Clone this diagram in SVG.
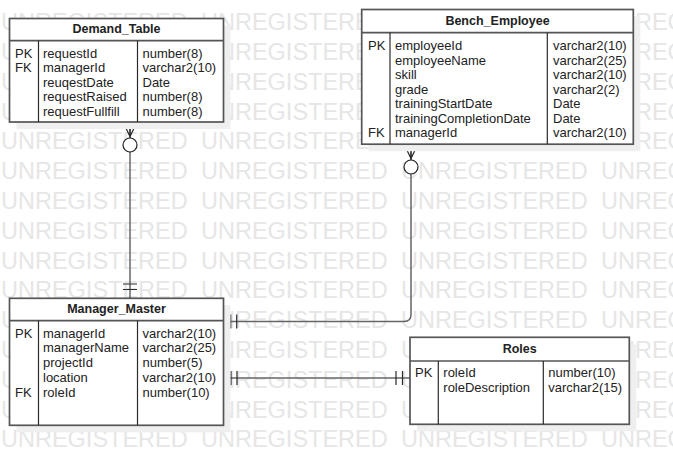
<svg xmlns="http://www.w3.org/2000/svg" width="673" height="466" viewBox="0 0 673 466">
<style>
.wm{font-family:"Liberation Sans",Arial,sans-serif;font-size:23.5px;fill:#e6e6e6}
.shadow{fill:#efefef}
.box{fill:#ffffff;stroke:#555555;stroke-width:1.7}
.hl{stroke:#555555;stroke-width:1.7}
.col{stroke:#2a2a2a;stroke-width:1.2}
.title{font-family:"Liberation Sans",Arial,sans-serif;font-size:12.5px;font-weight:bold;fill:#222;text-anchor:middle}
.t{font-family:"Liberation Sans",Arial,sans-serif;font-size:13px;fill:#222}
.ln{fill:none;stroke:#666666;stroke-width:1.5}
.crow{fill:none;stroke:#2a2a2a;stroke-width:1.2}
.circ{fill:#ffffff;stroke:#222222;stroke-width:1.2}
</style>
<rect width="673" height="466" fill="#ffffff"/>
<g id="watermark">
<text class="wm" y="30.2"><tspan x="1">UNREGISTERED</tspan><tspan x="201">UNREGISTERED</tspan><tspan x="401">UNREGISTERED</tspan><tspan x="601">UNREGISTERED</tspan></text>
<text class="wm" y="60"><tspan x="1">UNREGISTERED</tspan><tspan x="201">UNREGISTERED</tspan><tspan x="401">UNREGISTERED</tspan><tspan x="601">UNREGISTERED</tspan></text>
<text class="wm" y="89.8"><tspan x="1">UNREGISTERED</tspan><tspan x="201">UNREGISTERED</tspan><tspan x="401">UNREGISTERED</tspan><tspan x="601">UNREGISTERED</tspan></text>
<text class="wm" y="119.6"><tspan x="1">UNREGISTERED</tspan><tspan x="201">UNREGISTERED</tspan><tspan x="401">UNREGISTERED</tspan><tspan x="601">UNREGISTERED</tspan></text>
<text class="wm" y="149.4"><tspan x="1">UNREGISTERED</tspan><tspan x="201">UNREGISTERED</tspan><tspan x="401">UNREGISTERED</tspan><tspan x="601">UNREGISTERED</tspan></text>
<text class="wm" y="179.2"><tspan x="1">UNREGISTERED</tspan><tspan x="201">UNREGISTERED</tspan><tspan x="401">UNREGISTERED</tspan><tspan x="601">UNREGISTERED</tspan></text>
<text class="wm" y="209"><tspan x="1">UNREGISTERED</tspan><tspan x="201">UNREGISTERED</tspan><tspan x="401">UNREGISTERED</tspan><tspan x="601">UNREGISTERED</tspan></text>
<text class="wm" y="238.8"><tspan x="1">UNREGISTERED</tspan><tspan x="201">UNREGISTERED</tspan><tspan x="401">UNREGISTERED</tspan><tspan x="601">UNREGISTERED</tspan></text>
<text class="wm" y="268.6"><tspan x="1">UNREGISTERED</tspan><tspan x="201">UNREGISTERED</tspan><tspan x="401">UNREGISTERED</tspan><tspan x="601">UNREGISTERED</tspan></text>
<text class="wm" y="298.4"><tspan x="1">UNREGISTERED</tspan><tspan x="201">UNREGISTERED</tspan><tspan x="401">UNREGISTERED</tspan><tspan x="601">UNREGISTERED</tspan></text>
<text class="wm" y="328.2"><tspan x="1">UNREGISTERED</tspan><tspan x="201">UNREGISTERED</tspan><tspan x="401">UNREGISTERED</tspan><tspan x="601">UNREGISTERED</tspan></text>
<text class="wm" y="358"><tspan x="1">UNREGISTERED</tspan><tspan x="201">UNREGISTERED</tspan><tspan x="401">UNREGISTERED</tspan><tspan x="601">UNREGISTERED</tspan></text>
<text class="wm" y="387.8"><tspan x="1">UNREGISTERED</tspan><tspan x="201">UNREGISTERED</tspan><tspan x="401">UNREGISTERED</tspan><tspan x="601">UNREGISTERED</tspan></text>
<text class="wm" y="417.6"><tspan x="1">UNREGISTERED</tspan><tspan x="201">UNREGISTERED</tspan><tspan x="401">UNREGISTERED</tspan><tspan x="601">UNREGISTERED</tspan></text>
<text class="wm" y="447.4"><tspan x="1">UNREGISTERED</tspan><tspan x="201">UNREGISTERED</tspan><tspan x="401">UNREGISTERED</tspan><tspan x="601">UNREGISTERED</tspan></text>
</g>

<g id="connectors">
<!-- Demand_Table to Manager_Master -->
<path class="ln" d="M130,122 V298.3"/>
<path class="crow" d="M123,122 L130,136.5 L137,122 M130,122 V138"/>
<circle class="circ" cx="130" cy="145" r="7"/>
<path class="crow" d="M123,284 H137 M123,289.5 H137"/>
<!-- Bench_Employee to Manager_Master -->
<path class="ln" d="M411,144 V314.5 Q411,321.5 404,321.5 H223.5"/>
<path class="crow" d="M404,144 L411,158.5 L418,144 M411,144 V160"/>
<circle class="circ" cx="411" cy="167" r="7"/>
<path class="crow" d="M230.7,314.5 V328.5 M236.7,314.5 V328.5"/>
<!-- Manager_Master to Roles -->
<path class="ln" d="M223.5,378 H410"/>
<path class="crow" d="M231,371 V385 M237,371 V385 M396,371 V385 M402.5,371 V385"/>
</g>

<g id="Demand_Table">
<rect class="shadow" x="16.5" y="25.5" width="214" height="103.5"/>
<rect class="box" x="9.5" y="18.5" width="214" height="103.5"/>
<line class="hl" x1="9.5" y1="40.7" x2="223.5" y2="40.7"/>
<line class="col" x1="38.5" y1="40.7" x2="38.5" y2="122"/>
<line class="col" x1="137.5" y1="40.7" x2="137.5" y2="122"/>
<text class="title" x="116.5" y="33">Demand_Table</text>
<text class="t" x="15" y="57.5">PK</text>
<text class="t" x="15" y="72">FK</text>
<text class="t" x="43" y="57.5">requestId</text>
<text class="t" x="43" y="72">managerId</text>
<text class="t" x="43" y="86.5">reuqestDate</text>
<text class="t" x="43" y="101">requestRaised</text>
<text class="t" x="43" y="115.5">requestFullfill</text>
<text class="t" x="142.5" y="57.5">number(8)</text>
<text class="t" x="142.5" y="72">varchar2(10)</text>
<text class="t" x="142.5" y="86.5">Date</text>
<text class="t" x="142.5" y="101">number(8)</text>
<text class="t" x="142.5" y="115.5">number(8)</text>
</g>

<g id="Bench_Employee">
<rect class="shadow" x="368.7" y="16.5" width="271.6" height="134.7"/>
<rect class="box" x="361.7" y="9.5" width="271.6" height="134.7"/>
<line class="hl" x1="361.7" y1="32.7" x2="633.3" y2="32.7"/>
<line class="col" x1="390" y1="32.7" x2="390" y2="144.2"/>
<line class="col" x1="547.3" y1="32.7" x2="547.3" y2="144.2"/>
<text class="title" x="497.5" y="25">Bench_Employee</text>
<text class="t" x="368" y="50">PK</text>
<text class="t" x="368" y="137">FK</text>
<text class="t" x="395" y="50">employeeId</text>
<text class="t" x="395" y="64.5">employeeName</text>
<text class="t" x="395" y="79">skill</text>
<text class="t" x="395" y="93.5">grade</text>
<text class="t" x="395" y="108">trainingStartDate</text>
<text class="t" x="395" y="122.5">trainingCompletionDate</text>
<text class="t" x="395" y="137">managerId</text>
<text class="t" x="553" y="50">varchar2(10)</text>
<text class="t" x="553" y="64.5">varchar2(25)</text>
<text class="t" x="553" y="79">varchar2(10)</text>
<text class="t" x="553" y="93.5">varchar2(2)</text>
<text class="t" x="553" y="108">Date</text>
<text class="t" x="553" y="122.5">Date</text>
<text class="t" x="553" y="137">varchar2(10)</text>
</g>

<g id="Manager_Master">
<rect class="shadow" x="16.5" y="305.3" width="214" height="127"/>
<rect class="box" x="9.5" y="298.3" width="214" height="127"/>
<line class="hl" x1="9.5" y1="320.7" x2="223.5" y2="320.7"/>
<line class="col" x1="38.5" y1="320.7" x2="38.5" y2="425.3"/>
<line class="col" x1="137.5" y1="320.7" x2="137.5" y2="425.3"/>
<text class="title" x="116.5" y="313.3">Manager_Master</text>
<text class="t" x="15" y="337.5">PK</text>
<text class="t" x="15" y="397">FK</text>
<text class="t" x="43" y="337.5">managerId</text>
<text class="t" x="43" y="352.4">managerName</text>
<text class="t" x="43" y="367.3">projectId</text>
<text class="t" x="43" y="382.2">location</text>
<text class="t" x="43" y="397">roleId</text>
<text class="t" x="142.5" y="337.5">varchar2(10)</text>
<text class="t" x="142.5" y="352.4">varchar2(25)</text>
<text class="t" x="142.5" y="367.3">number(5)</text>
<text class="t" x="142.5" y="382.2">varchar2(10)</text>
<text class="t" x="142.5" y="397">number(10)</text>
</g>

<g id="Roles">
<rect class="shadow" x="417" y="344.3" width="219.3" height="87"/>
<rect class="box" x="410" y="337.3" width="219.3" height="87"/>
<line class="hl" x1="410" y1="361" x2="629.3" y2="361"/>
<line class="col" x1="438.3" y1="361" x2="438.3" y2="424.3"/>
<line class="col" x1="543.3" y1="361" x2="543.3" y2="424.3"/>
<text class="title" x="519.7" y="352.7">Roles</text>
<text class="t" x="415" y="377">PK</text>
<text class="t" x="443.3" y="377">roleId</text>
<text class="t" x="443.3" y="392">roleDescription</text>
<text class="t" x="548.3" y="377">number(10)</text>
<text class="t" x="548.3" y="392">varchar2(15)</text>
</g>
</svg>
